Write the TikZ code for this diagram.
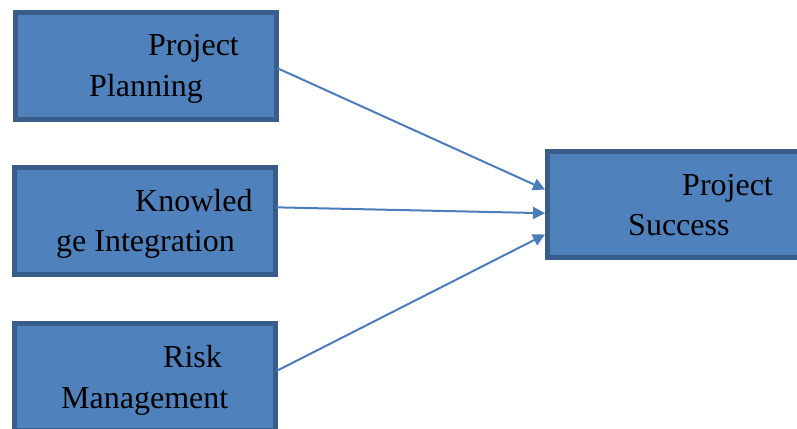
\documentclass[tikz,border=0pt]{standalone}
\usepackage{fontspec}
\setmainfont{Liberation Serif}
\usetikzlibrary{arrows.meta}
\definecolor{boxfill}{HTML}{4F81BD}
\definecolor{boxline}{HTML}{385D8A}
\definecolor{arrowcol}{HTML}{4A7EBB}
\tikzset{
  blockbox/.style={draw=boxline, fill=boxfill, line width=5pt, minimum width=261pt, minimum height=107pt, inner sep=0pt, outer sep=0pt},
  lbl/.style={anchor=base west, inner sep=0pt, font=\fontsize{32}{40}\selectfont},
  conn/.style={draw=arrowcol, line width=2pt, -{Triangle[length=12pt,width=12pt]}}
}
\begin{document}
\begin{tikzpicture}[x=1pt,y=1pt]
\useasboundingbox (0,0) rectangle (797,428);
\clip (0,0) rectangle (797,428);
\node[blockbox] (b1) at (146,361.75) {};
\node[blockbox] (b2) at (145,206.65) {};
\node[blockbox] (b3) at (145,51) {};
\node[blockbox, minimum height=106pt] (b4) at (678,223.5) {};
\node[lbl] (t1a) at (148,372.5) {Project};
\node[lbl] (t1b) at (89,331) {Planning};
\node[lbl] (t2a) at (135,216) {Knowled};
\node[lbl] (t2b) at (56,176) {ge Integration};
\node[lbl] (t3a) at (163,60.3) {Risk};
\node[lbl] (t3b) at (61,19.3) {Management};
\node[lbl] (t4a) at (682,232) {Project};
\node[lbl] (t4b) at (628,192) {Success};
\draw[conn] ([xshift=1pt,yshift=-2pt]b1.east) -- ([xshift=-2.5pt,yshift=15pt]b4.west);
\draw[conn] ([xshift=1pt,yshift=14pt]b2.east) -- ([xshift=-2.5pt,yshift=-8.7pt]b4.west);
\draw[conn] ([xshift=1pt,yshift=6pt]b3.east) -- ([xshift=-2.5pt,yshift=-30pt]b4.west);
\end{tikzpicture}
\end{document}
